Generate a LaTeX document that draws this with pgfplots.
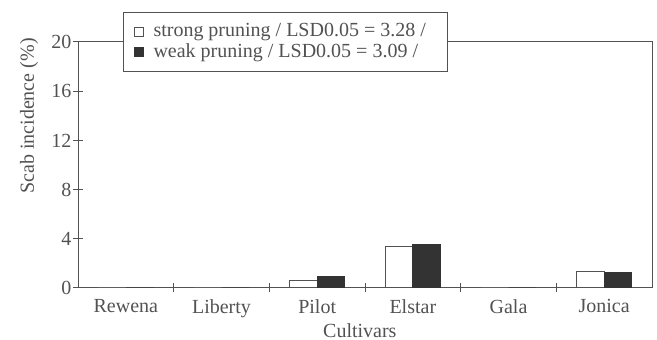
\documentclass[border=0pt]{standalone}
\usepackage{fontspec}
\setmainfont{Liberation Serif}
\usepackage{pgfplots}
\pgfplotsset{compat=1.18}
\definecolor{inkgray}{gray}{0.32}
\definecolor{barfill}{gray}{0.2}

% small square legend marker, with room on both sides
\pgfplotsset{sqlegend/.style={legend image code/.code={%
  \path (-3pt,0pt) (7.5pt,0pt);
  \draw[##1,line width=0.5pt] (0pt,-2.25pt) rectangle (4.5pt,2.25pt);}}}

% scab incidence (%) per cultivar
\pgfplotstableread{
x  strong weak
0  0      0
1  0      0
2  0.6    0.9
3  3.4    3.55
4  0      0
5  1.35   1.3
}\scabdata

\begin{document}
\begin{tikzpicture}
\useasboundingbox (-39pt,-26pt) rectangle (289.5pt,144pt);
\begin{axis}[
  at={(0pt,0pt)}, anchor=south west,
  scale only axis, width=287pt, height=123pt,
  ybar=0pt, bar width=13.85pt,
  xmin=-0.5, xmax=5.5, ymin=0, ymax=20,
  xtick={0.5,1.5,...,4.5}, xticklabels={},
  extra x ticks={0,1,2,3,4,5},
  extra x tick labels={Rewena,Liberty,Pilot,Elstar,Gala,Jonica},
  extra x tick style={tick style={draw=none}},
  ytick={0,4,...,20},
  xtick pos=bottom, ytick pos=left,
  tick align=center, major tick length=4.5pt,
  axis line style={inkgray, line width=0.5pt},
  every tick/.style={inkgray, line width=0.5pt},
  tick label style={text=inkgray},
  yticklabel style={xshift=2.5pt},
  /pgf/number format/assume math mode=true,
  label style={text=inkgray},
  ylabel={Scab incidence (\%)},
  ylabel style={at={(axis description cs:0,0.699)}, anchor=center, yshift=24.5pt},
  xlabel={Cultivars},
  xlabel style={at={(axis description cs:0.491,0)}, anchor=center, yshift=-21.5pt},
  legend style={at={(axis description cs:0.0784,1)}, yshift=15pt, anchor=north west,
    draw=inkgray, line width=0.5pt, fill=white,
    inner xsep=2pt, inner ysep=4.5pt, row sep=0pt,
    nodes={inner ysep=1pt, inner xsep=2pt, text=inkgray}},
  legend cell align=left,
]
\addplot[draw=inkgray, fill=white, line width=0.5pt, sqlegend]
  table[x=x, y=strong] {\scabdata};
\addplot[draw=barfill, fill=barfill, line width=0.5pt, sqlegend]
  table[x=x, y=weak] {\scabdata};
\legend{strong pruning / LSD0.05 = 3.28 /\hspace*{7pt}, weak pruning / LSD0.05 = 3.09 /\hspace*{7pt}}
\end{axis}
\end{tikzpicture}
\end{document}
